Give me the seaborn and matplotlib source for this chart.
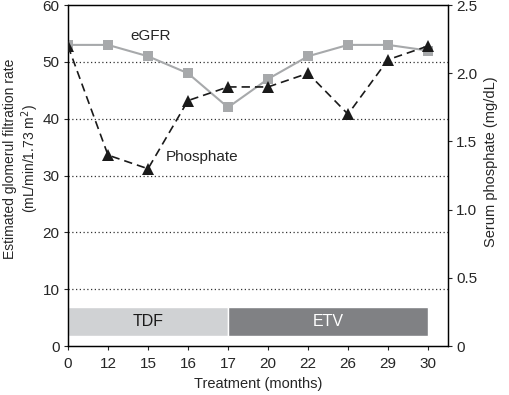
import numpy as np
import pandas as pd
import matplotlib
matplotlib.use("Agg")
import matplotlib.pyplot as plt
import seaborn as sns

# data
months = ["0", "12", "15", "16", "17", "20", "22", "26", "29", "30"]
egfr = [53, 53, 51, 48, 42, 47, 51, 53, 53, 52]
phosphate = [2.2, 1.4, 1.3, 1.8, 1.9, 1.9, 2.0, 1.7, 2.1, 2.2]
phases = ["TDF", "ETV"]
phase_start = ["0", "17"]
phase_end = ["17", "30"]
phase_colors = ["#d0d2d4", "#808184"]
phase_text = ["#1a1a1a", "white"]

sns.set_style("ticks")
plt.rcParams["font.family"] = ["Liberation Sans", "DejaVu Sans"]
plt.rcParams["font.size"] = 10.5

df = pd.DataFrame({"pos": np.arange(len(months)), "egfr": egfr, "phosphate": phosphate})

fig = plt.figure(figsize=(5.09, 3.95), dpi=100)
ax = fig.add_axes([0.1336, 0.124, 0.7466, 0.863])
ax2 = ax.twinx()

# dotted grid lines on the left scale
for g in [10, 20, 30, 40, 50]:
    ax.axhline(g, color="#333333", linestyle=(0, (1, 2)), linewidth=0.9, zorder=1)

# treatment bars
for name, s, e, c, tc in zip(phases, phase_start, phase_end, phase_colors, phase_text):
    x0 = months.index(s)
    x1 = months.index(e)
    ax.barh(4.3, x1 - x0, left=x0, height=5.0, color=c, edgecolor="white",
            linewidth=1.0, zorder=2)
    ax.text((x0 + x1) / 2, 4.3, name, ha="center", va="center", color=tc,
            fontsize=11.5, zorder=3)

sns.lineplot(data=df, x="pos", y="egfr", ax=ax, color="#a7a9ab", linewidth=1.5,
             marker="s", markersize=7, markeredgewidth=0, zorder=4)
sns.lineplot(data=df, x="pos", y="phosphate", ax=ax2, color="#1a1a1a",
             linewidth=1.2, linestyle=(0, (5, 3)), marker="^", markersize=8,
             markeredgewidth=0, zorder=5)

ax.set_xlim(0, 9.5)
ax.set_ylim(0, 60)
ax2.set_ylim(0, 2.5)
ax.set_xticks(df["pos"])
ax.set_xticklabels(months)
ax.set_yticks([0, 10, 20, 30, 40, 50, 60])
ax2.set_yticks([0, 0.5, 1.0, 1.5, 2.0, 2.5])
ax2.set_yticklabels(["0", "0.5", "1.0", "1.5", "2.0", "2.5"])

ax.set_xlabel("Treatment (months)", fontsize=10.5, labelpad=4)
ax.set_ylabel("Estimated glomerul filtration rate\n(mL/min/1.73 m$^2$)", fontsize=10,
              linespacing=1.1)
ax.yaxis.set_label_coords(-0.072, 0.55)
ax2.set_ylabel("Serum phosphate (mg/dL)", fontsize=10.5)
ax2.yaxis.set_label_coords(1.095, 0.54)

ax.text(2.07, 54.5, "eGFR", fontsize=11, ha="center", va="center")
ax.text(3.36, 33.3, "Phosphate", fontsize=11, ha="center", va="center")

for a in (ax, ax2):
    a.tick_params(direction="out", length=3, width=0.8, pad=3, labelsize=11)
    for sp in a.spines.values():
        sp.set_linewidth(0.9)
        sp.set_color("black")
        sp.set_visible(True)
ax.tick_params(axis="x", pad=5)

fig.savefig("out.png", dpi=100)
